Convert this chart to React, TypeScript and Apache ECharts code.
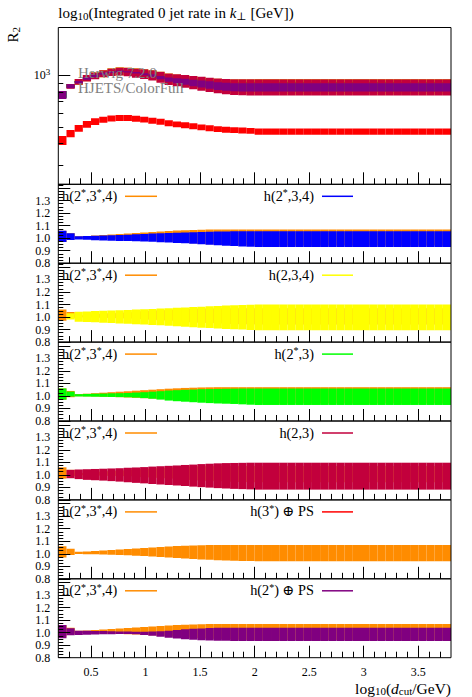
import React, { useEffect, useRef } from "react";
import * as echarts from "echarts";

// ---------------- DATA ----------------
const BIN_EDGES = [
  0.2, 0.275, 0.35, 0.425, 0.5, 0.575, 0.65, 0.725, 0.8, 0.875, 0.95, 1.025, 1.1, 1.175, 1.25, 1.325,
  1.4, 1.475, 1.55, 1.625, 1.7, 1.775, 1.85, 1.925, 2.0, 2.075, 2.15, 2.225, 2.3, 2.375, 2.45, 2.525,
  2.6, 2.675, 2.75, 2.825, 2.9, 2.975, 3.05, 3.125, 3.2, 3.275, 3.35, 3.425, 3.5, 3.575, 3.65, 3.725, 3.8,
];

// central value of the reference h(2*,3*,4) in the upper panel
const REF_CENTRAL = [
  760, 855, 910, 957, 990, 1019, 1040, 1053, 1045, 1033, 1018, 1003, 978, 954, 940, 927,
  912, 900, 887, 876, 868, 863, 862, 862, 862, 862, 862, 862, 862, 862, 862, 862,
  862, 862, 862, 862, 862, 862, 862, 862, 862, 862, 862, 862, 862, 862, 862, 862,
];

// bands expressed as ratio to REF_CENTRAL (null = no bin drawn)
const ORANGE_HI = [
  1.06, 1.04, 1.015, 1.018, 1.022, 1.026, 1.03, 1.034, 1.038, 1.042, 1.046, 1.05, 1.054, 1.058, 1.061, 1.064,
  1.066, 1.068, 1.069, 1.07, 1.07, 1.07, 1.07, 1.07, 1.07, 1.07, 1.07, 1.07, 1.07, 1.07, 1.07, 1.07,
  1.07, 1.07, 1.07, 1.07, 1.07, 1.07, 1.07, 1.07, 1.07, 1.07, 1.07, 1.07, 1.07, 1.07, 1.07, 1.07,
];
const ORANGE_LO = [
  0.97, 0.99, 0.998, 0.997, 0.996, 0.994, 0.992, 0.99, 0.988, 0.985, 0.982, 0.979, 0.975, 0.971, 0.967, 0.963,
  0.959, 0.955, 0.952, 0.949, 0.947, 0.945, 0.943, 0.942, 0.941, 0.941, 0.941, 0.941, 0.941, 0.941, 0.941, 0.941,
  0.941, 0.941, 0.941, 0.941, 0.941, 0.941, 0.941, 0.941, 0.941, 0.941, 0.941, 0.941, 0.941, 0.941, 0.941, 0.941,
];
const BLUE_HI = [
  1.059, 1.04, 1.016, 1.018, 1.02, 1.022, 1.024, 1.026, 1.028, 1.031, 1.034, 1.037, 1.04, 1.042, 1.044, 1.046,
  1.048, 1.05, 1.052, 1.053, 1.054, 1.055, 1.056, 1.056, 1.056, 1.056, 1.056, 1.056, 1.056, 1.056, 1.056, 1.056,
  1.056, 1.056, 1.056, 1.056, 1.056, 1.056, 1.056, 1.056, 1.056, 1.056, 1.056, 1.056, 1.056, 1.056, 1.056, 1.056,
];
const BLUE_LO = [
  0.97, 0.985, 0.99, 0.987, 0.984, 0.981, 0.979, 0.978, 0.977, 0.975, 0.973, 0.971, 0.968, 0.965, 0.962, 0.959,
  0.955, 0.951, 0.947, 0.943, 0.94, 0.937, 0.934, 0.932, 0.93, 0.93, 0.93, 0.93, 0.93, 0.93, 0.93, 0.93,
  0.93, 0.93, 0.93, 0.93, 0.93, 0.93, 0.93, 0.93, 0.93, 0.93, 0.93, 0.93, 0.93, 0.93, 0.93, 0.93,
];
const YELLOW_HI = [
  null, 1.03, 1.043, 1.045, 1.048, 1.051, 1.053, 1.055, 1.057, 1.06, 1.062, 1.065, 1.068, 1.071, 1.074, 1.077,
  1.08, 1.083, 1.086, 1.089, 1.092, 1.095, 1.097, 1.099, 1.1, 1.1, 1.1, 1.1, 1.1, 1.1, 1.1, 1.1,
  1.1, 1.1, 1.1, 1.1, 1.1, 1.1, 1.1, 1.1, 1.1, 1.1, 1.1, 1.1, 1.1, 1.1, 1.1, 1.1,
];
const YELLOW_LO = [
  null, 0.98, 0.963, 0.961, 0.958, 0.955, 0.952, 0.949, 0.946, 0.943, 0.94, 0.937, 0.934, 0.93, 0.926, 0.923,
  0.919, 0.915, 0.912, 0.908, 0.905, 0.902, 0.9, 0.897, 0.895, 0.895, 0.895, 0.895, 0.895, 0.895, 0.895, 0.895,
  0.895, 0.895, 0.895, 0.895, 0.895, 0.895, 0.895, 0.895, 0.895, 0.895, 0.895, 0.895, 0.895, 0.895, 0.895, 0.895,
];
const GREEN_HI = [
  1.06, 1.035, 1.014, 1.016, 1.018, 1.019, 1.021, 1.022, 1.024, 1.027, 1.03, 1.034, 1.038, 1.043, 1.046, 1.049,
  1.051, 1.054, 1.055, 1.056, 1.057, 1.058, 1.059, 1.059, 1.059, 1.059, 1.059, 1.059, 1.059, 1.059, 1.059, 1.059,
  1.059, 1.059, 1.059, 1.059, 1.059, 1.059, 1.059, 1.059, 1.059, 1.059, 1.059, 1.059, 1.059, 1.059, 1.059, 1.059,
];
const GREEN_LO = [
  0.97, 0.995, 0.996, 0.995, 0.994, 0.993, 0.992, 0.991, 0.989, 0.987, 0.983, 0.978, 0.971, 0.963, 0.958, 0.954,
  0.95, 0.946, 0.943, 0.94, 0.938, 0.936, 0.933, 0.93, 0.928, 0.928, 0.928, 0.928, 0.928, 0.928, 0.928, 0.928,
  0.928, 0.928, 0.928, 0.928, 0.928, 0.928, 0.928, 0.928, 0.928, 0.928, 0.928, 0.928, 0.928, 0.928, 0.928, 0.928,
];
const CRIMSON_HI = [
  null, 1.04, 1.043, 1.045, 1.047, 1.049, 1.051, 1.053, 1.056, 1.059, 1.062, 1.066, 1.069, 1.072, 1.075, 1.079,
  1.082, 1.086, 1.089, 1.092, 1.094, 1.095, 1.096, 1.097, 1.097, 1.097, 1.097, 1.097, 1.097, 1.097, 1.097, 1.097,
  1.097, 1.097, 1.097, 1.097, 1.097, 1.097, 1.097, 1.097, 1.097, 1.097, 1.097, 1.097, 1.097, 1.097, 1.097, 1.097,
];
const CRIMSON_LO = [
  null, 0.973, 0.966, 0.96, 0.957, 0.954, 0.95, 0.946, 0.941, 0.936, 0.932, 0.927, 0.923, 0.919, 0.915, 0.911,
  0.906, 0.902, 0.898, 0.894, 0.891, 0.888, 0.886, 0.884, 0.882, 0.882, 0.882, 0.882, 0.882, 0.882, 0.882, 0.882,
  0.882, 0.882, 0.882, 0.882, 0.882, 0.882, 0.882, 0.882, 0.882, 0.882, 0.882, 0.882, 0.882, 0.882, 0.882, 0.882,
];
const RED_HI = [
  0.582, 0.56, 0.563, 0.565, 0.566, 0.562, 0.56, 0.557, 0.56, 0.561, 0.563, 0.563, 0.569, 0.573, 0.572, 0.573,
  0.575, 0.574, 0.575, 0.576, 0.576, 0.576, 0.574, 0.572, 0.568, 0.568, 0.568, 0.568, 0.568, 0.568, 0.568, 0.568,
  0.568, 0.568, 0.568, 0.568, 0.568, 0.568, 0.568, 0.568, 0.568, 0.568, 0.568, 0.568, 0.568, 0.568, 0.568, 0.568,
];
const RED_LO = [
  0.516, 0.508, 0.514, 0.516, 0.517, 0.518, 0.516, 0.514, 0.517, 0.518, 0.52, 0.519, 0.525, 0.529, 0.529, 0.529,
  0.531, 0.531, 0.532, 0.533, 0.533, 0.533, 0.53, 0.528, 0.521, 0.521, 0.521, 0.521, 0.521, 0.521, 0.521, 0.521,
  0.521, 0.521, 0.521, 0.521, 0.521, 0.521, 0.521, 0.521, 0.521, 0.521, 0.521, 0.521, 0.521, 0.521, 0.521, 0.521,
];
const PURPLE_HI = [
  1.062, 1.035, 1.016, 1.015, 1.014, 1.013, 1.011, 1.01, 1.009, 1.008, 1.008, 1.009, 1.012, 1.016, 1.021, 1.027,
  1.031, 1.034, 1.037, 1.039, 1.04, 1.04, 1.04, 1.04, 1.04, 1.04, 1.04, 1.04, 1.04, 1.04, 1.04, 1.04,
  1.04, 1.04, 1.04, 1.04, 1.04, 1.04, 1.04, 1.04, 1.04, 1.04, 1.04, 1.04, 1.04, 1.04, 1.04, 1.04,
];
const PURPLE_LO = [
  0.955, 0.98, 0.981, 0.983, 0.985, 0.987, 0.988, 0.989, 0.99, 0.988, 0.982, 0.976, 0.968, 0.96, 0.953, 0.947,
  0.943, 0.94, 0.938, 0.936, 0.935, 0.934, 0.933, 0.933, 0.933, 0.933, 0.933, 0.933, 0.933, 0.933, 0.933, 0.933,
  0.933, 0.933, 0.933, 0.933, 0.933, 0.933, 0.933, 0.933, 0.933, 0.933, 0.933, 0.933, 0.933, 0.933, 0.933, 0.933,
];

const SERIES_NAMES = ["h(2*,3*,4)", "h(2*,3,4)", "h(2,3,4)", "h(2*,3)", "h(2,3)", "h(3*) ⊕ PS", "h(2*) ⊕ PS"];
const SERIES_COLORS = ["#ff8c00", "#0000ff", "#ffff00", "#00ff00", "#c2003c", "#ff0000", "#800080"];
const SERIES_LO = [ORANGE_LO, BLUE_LO, YELLOW_LO, GREEN_LO, CRIMSON_LO, RED_LO, PURPLE_LO];
const SERIES_HI = [ORANGE_HI, BLUE_HI, YELLOW_HI, GREEN_HI, CRIMSON_HI, RED_HI, PURPLE_HI];

const X_MAJOR = [0.5, 1, 1.5, 2, 2.5, 3, 3.5];
const X_MINOR = [
  0.3, 0.4, 0.6, 0.7, 0.8, 0.9, 1.1, 1.2, 1.3, 1.4, 1.6, 1.7, 1.8, 1.9, 2.1, 2.2, 2.3, 2.4,
  2.6, 2.7, 2.8, 2.9, 3.1, 3.2, 3.3, 3.4, 3.6, 3.7,
];
const MAIN_Y_MAJOR = [1000];
const MAIN_Y_MINOR = [300, 400, 500, 600, 700, 800, 900];
const RATIO_Y_LABELS = [0.8, 0.9, 1.0, 1.1, 1.2, 1.3];

const TITLE = "log{sub|10}(Integrated 0 jet rate in {it|k}{sub|⊥} [GeV])";
const X_TITLE = "log{sub|10}({it|d}{sub|cut}/GeV)";
const Y_TITLE = "R{sub|2}";
const GENERATOR_LINES = ["Herwig 7.2.0", "HJETS/ColorFull"];

// ---------------- LAYOUT ----------------
const W = 472;
const H = 697;
const PLOT_L = 58.3;
const PLOT_R = 451;
const MAIN_TOP = 27.5;
const MAIN_BOTTOM = 184.3;
const RATIO_H = 78.9;
const MAIN_MIN = 231.5;
const MAIN_MAX = 1893;
const RATIO_MIN = 0.8;
const RATIO_MAX = 1.43;
const FONT = "'Liberation Serif', 'DejaVu Serif', serif";

const richStyles = (base: number) => ({
  sub: { fontFamily: FONT, fontSize: Math.round(base * 0.7), lineHeight: Math.round(base * 0.75), verticalAlign: "bottom", fill: "#000" },
  sup: { fontFamily: FONT, fontSize: Math.round(base * 0.7), lineHeight: base, verticalAlign: "top", fill: "#000" },
  it: { fontFamily: FONT, fontSize: base, fontStyle: "italic", lineHeight: base + 2, fill: "#000" },
});

const starToSup = (s: string) => s.replace(/\*/g, "{sup|*}");

export default function App() {
  const ref = useRef<HTMLDivElement>(null);

  useEffect(() => {
    if (!ref.current) return;
    const chart = echarts.init(ref.current, undefined, { renderer: "svg" });

    const nBins = BIN_EDGES.length - 1;
    const bandData = (si: number, main: boolean) => {
      const out: number[][] = [];
      for (let i = 0; i < nBins; i++) {
        const lo = SERIES_LO[si][i];
        const hi = SERIES_HI[si][i];
        if (lo == null || hi == null) continue;
        if (main) {
          out.push([BIN_EDGES[i], BIN_EDGES[i + 1], Math.log10(lo * REF_CENTRAL[i]), Math.log10(hi * REF_CENTRAL[i])]);
        } else {
          out.push([BIN_EDGES[i], BIN_EDGES[i + 1], lo, hi]);
        }
      }
      return out;
    };

    const makeRender = (color: string) => (params: any, api: any) => {
      const a = api.coord([api.value(0), api.value(3)]);
      const b = api.coord([api.value(1), api.value(2)]);
      return {
        type: "rect",
        shape: { x: a[0], y: a[1], width: b[0] - a[0], height: b[1] - a[1] },
        style: { fill: color },
      };
    };

    const grids: any[] = [];
    grids.push({ left: PLOT_L, width: PLOT_R - PLOT_L, top: MAIN_TOP, height: MAIN_BOTTOM - MAIN_TOP, show: false, containLabel: false });
    for (let k = 0; k < 6; k++) {
      grids.push({ left: PLOT_L, width: PLOT_R - PLOT_L, top: MAIN_BOTTOM + k * RATIO_H, height: RATIO_H, show: false, containLabel: false });
    }

    const tickStyle = { color: "#000", width: 1 };
    const xAxes: any[] = [];
    for (let g = 0; g < 7; g++) {
      xAxes.push({
        gridIndex: g, type: "value", position: "bottom", min: 0.2, max: 3.8, z: 10,
        axisLine: { show: false }, splitLine: { show: false },
        axisTick: { show: true, inside: true, length: 12, customValues: X_MAJOR, lineStyle: tickStyle },
        axisLabel: {
          show: g === 6, customValues: X_MAJOR, margin: 8, color: "#000", fontFamily: FONT, fontSize: 12,
          showMinLabel: true, showMaxLabel: true,
          formatter: (v: number) => String(v),
        },
      });
      xAxes.push({
        gridIndex: g, type: "value", position: "bottom", min: 0.2, max: 3.8, z: 10,
        axisLine: { show: false }, splitLine: { show: false },
        axisTick: { show: true, inside: true, length: 6, customValues: X_MINOR, lineStyle: tickStyle },
        axisLabel: { show: false },
      });
    }

    const yAxes: any[] = [];
    const ymin = Math.log10(MAIN_MIN);
    const ymax = Math.log10(MAIN_MAX);
    yAxes.push({
      gridIndex: 0, type: "value", position: "left", min: ymin, max: ymax, z: 10,
      axisLine: { show: false }, splitLine: { show: false },
      axisTick: { show: true, inside: true, length: 12, customValues: MAIN_Y_MAJOR.map(Math.log10), lineStyle: tickStyle },
      axisLabel: {
        customValues: MAIN_Y_MAJOR.map(Math.log10), margin: 8, color: "#000", fontFamily: FONT, fontSize: 12, lineHeight: 16,
        showMinLabel: true, showMaxLabel: true,
        formatter: (v: number) => "10{sup|" + Math.round(v) + "}",
        rich: { sup: { fontFamily: FONT, fontSize: 9, lineHeight: 11, verticalAlign: "top", color: "#000" } },
      },
    });
    yAxes.push({
      gridIndex: 0, type: "value", position: "left", min: ymin, max: ymax, z: 10,
      axisLine: { show: false }, splitLine: { show: false },
      axisTick: { show: true, inside: true, length: 5, customValues: MAIN_Y_MINOR.map(Math.log10), lineStyle: tickStyle },
      axisLabel: { show: false },
    });
    for (let k = 0; k < 6; k++) {
      yAxes.push({
        gridIndex: k + 1, type: "value", position: "left", min: RATIO_MIN, max: RATIO_MAX, interval: 0.1, z: 10,
        axisLine: { show: false }, splitLine: { show: false },
        axisTick: { show: true, inside: true, length: 12, lineStyle: tickStyle },
        minorTick: { show: true, splitNumber: 4, length: 5, lineStyle: tickStyle },
        axisLabel: {
          customValues: RATIO_Y_LABELS, margin: 8, color: "#000", fontFamily: FONT, fontSize: 12,
          showMinLabel: true, showMaxLabel: true,
          formatter: (v: number) => v.toFixed(1),
        },
      });
    }

    const series: any[] = [];
    for (let s = 0; s < 7; s++) {
      series.push({
        type: "custom", xAxisIndex: 0, yAxisIndex: 0, clip: true, z: 2,
        renderItem: makeRender(SERIES_COLORS[s]), data: bandData(s, true),
        encode: { x: [0, 1], y: [2, 3] }, silent: true,
      });
    }
    for (let k = 0; k < 6; k++) {
      const xi = 2 * (k + 1);
      const yi = k + 2;
      series.push({
        type: "custom", xAxisIndex: xi, yAxisIndex: yi, clip: true, z: 2,
        renderItem: makeRender(SERIES_COLORS[0]), data: bandData(0, false),
        encode: { x: [0, 1], y: [2, 3] }, silent: true,
      });
      series.push({
        type: "custom", xAxisIndex: xi, yAxisIndex: yi, clip: true, z: 2,
        renderItem: makeRender(SERIES_COLORS[k + 1]), data: bandData(k + 1, false),
        encode: { x: [0, 1], y: [2, 3] }, silent: true,
      });
    }

    const graphics: any[] = [];
    graphics.push({
      type: "rect", z: 100, silent: true,
      shape: { x: PLOT_L, y: MAIN_TOP, width: PLOT_R - PLOT_L, height: MAIN_BOTTOM - MAIN_TOP },
      style: { fill: "none", stroke: "#000", lineWidth: 1 },
    });
    for (let k = 0; k < 6; k++) {
      graphics.push({
        type: "rect", z: 100, silent: true,
        shape: { x: PLOT_L, y: MAIN_BOTTOM + k * RATIO_H, width: PLOT_R - PLOT_L, height: RATIO_H },
        style: { fill: "none", stroke: "#000", lineWidth: 1 },
      });
    }
    graphics.push({
      type: "text", z: 100, x: PLOT_L, y: 13, silent: true,
      style: { text: TITLE, fontFamily: FONT, fontSize: 15, lineHeight: 17, fill: "#000", align: "left", verticalAlign: "middle", rich: richStyles(15) },
    });
    graphics.push({
      type: "text", z: 100, x: 13, y: 27, rotation: Math.PI / 2, silent: true,
      style: { text: Y_TITLE, fontFamily: FONT, fontSize: 15, lineHeight: 17, fill: "#000", align: "right", verticalAlign: "middle", rich: richStyles(15) },
    });
    graphics.push({
      type: "text", z: 100, x: PLOT_R, y: 688, silent: true,
      style: { text: X_TITLE, fontFamily: FONT, fontSize: 15.5, lineHeight: 16, fill: "#000", align: "right", verticalAlign: "middle", rich: richStyles(15.5) },
    });
    GENERATOR_LINES.forEach((t, i) => {
      graphics.push({
        type: "text", z: 100, x: 78, y: 73.3 + i * 15, silent: true,
        style: { text: t, fontFamily: FONT, fontSize: 15, lineHeight: 14, fill: "#808080", align: "left", verticalAlign: "middle" },
      });
    });
    for (let k = 0; k < 6; k++) {
      const yc = MAIN_BOTTOM + k * RATIO_H + 11.5;
      graphics.push({
        type: "text", z: 100, x: 62, y: yc, silent: true,
        style: { text: starToSup(SERIES_NAMES[0]), fontFamily: FONT, fontSize: 14.3, lineHeight: 16, fill: "#000", align: "left", verticalAlign: "middle", rich: richStyles(14.3) },
      });
      graphics.push({
        type: "line", z: 100, silent: true,
        shape: { x1: 125, y1: yc + 0.5, x2: 157, y2: yc + 0.5 },
        style: { stroke: SERIES_COLORS[0], lineWidth: 1.5 },
      });
      graphics.push({
        type: "text", z: 100, x: 314, y: yc, silent: true,
        style: { text: starToSup(SERIES_NAMES[k + 1]), fontFamily: FONT, fontSize: 14.3, lineHeight: 16, fill: "#000", align: "right", verticalAlign: "middle", rich: richStyles(14.3) },
      });
      graphics.push({
        type: "line", z: 100, silent: true,
        shape: { x1: 322, y1: yc + 0.5, x2: 353, y2: yc + 0.5 },
        style: { stroke: SERIES_COLORS[k + 1], lineWidth: 1.5 },
      });
    }

    chart.setOption({
      animation: false,
      backgroundColor: "#fff",
      textStyle: { fontFamily: FONT },
      grid: grids,
      xAxis: xAxes,
      yAxis: yAxes,
      series,
      graphic: { elements: graphics },
    });

    return () => chart.dispose();
  }, []);

  return <div ref={ref} style={{ position: "fixed", left: 0, top: 0, width: W, height: H }} />;
}
